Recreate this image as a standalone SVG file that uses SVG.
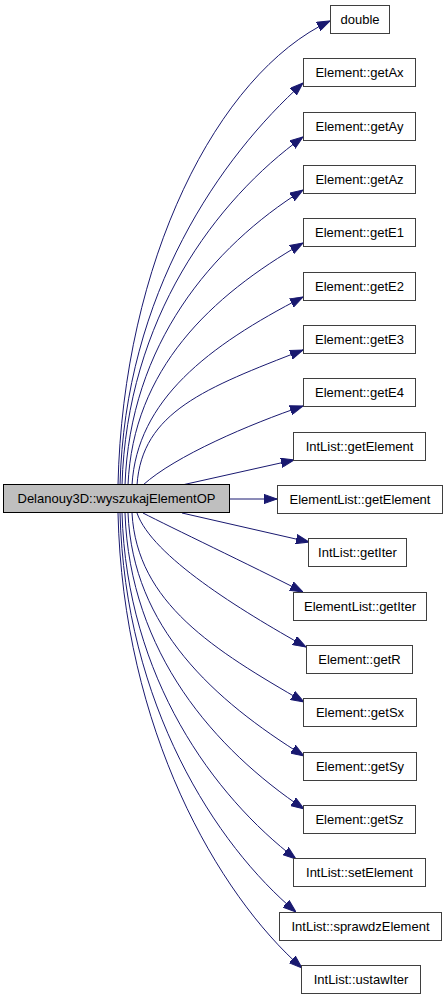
<svg xmlns="http://www.w3.org/2000/svg" width="448" height="1000" viewBox="0 0 448 1000">
<style>
.n rect{fill:#fff;stroke:#3f3f3f;stroke-width:1}
.m rect{fill:#bfbfbf;stroke:#000;stroke-width:1}
text{font-family:"Liberation Sans",Arial,sans-serif;font-size:13px;fill:#000;text-anchor:middle}
.e path{fill:none;stroke:#191970;stroke-width:1;marker-end:url(#a)}
</style>
<defs>
<marker id="a" markerUnits="userSpaceOnUse" markerWidth="13" markerHeight="10" viewBox="0 0 13 10" refX="13" refY="5" orient="auto">
<path d="M0,0.4 L13,5 L0,9.6 z" fill="#191970" stroke="#191970" stroke-width="1"/>
</marker>
</defs>
<rect width="448" height="1000" fill="#fff"/>
<g class="e" id="edges">
<path d="M118,485 C123,262 217,74 330,21"/>
<path d="M120,485 C125,292 221,157 303,83"/>
<path d="M122,485 C127,318 216,200 303,137"/>
<path d="M125,485 C130,344 212,247 303,190"/>
<path d="M128,485 C133,369 211,296 303,243"/>
<path d="M132,485 C137,400 208,346 303,297"/>
<path d="M137,485 C142,412 205,388 303,350"/>
<path d="M143,485 C175,456 250,424 303,406"/>
<path d="M182,485 L294,460"/>
<path d="M230,499 L277,499"/>
<path d="M182,513 L309,542"/>
<path d="M143,513 C170,527 250,565 303,592"/>
<path d="M137,513 C152,556 240,610 306,647"/>
<path d="M132,513 C137,603 214,650 304,702"/>
<path d="M128,513 C133,628 214,700 304,756"/>
<path d="M125,513 C130,654 215,749 304,809"/>
<path d="M122,513 C127,679 214,796 296,859"/>
<path d="M120,513 C125,705 216,845 296,912"/>
<path d="M118,513 C123,730 218,894 302,968"/>
</g>
<g class="m" id="main"><rect x="3.5" y="484.5" width="226" height="28"/><text x="116.5" y="503">Delanouy3D::wyszukajElementOP</text></g>
<g class="n" id="n0"><rect x="330.5" y="5.5" width="59" height="28"/><text x="360" y="24">double</text></g>
<g class="n" id="n1"><rect x="303.5" y="58.5" width="112" height="28"/><text x="359.5" y="77">Element::getAx</text></g>
<g class="n" id="n2"><rect x="303.5" y="112.5" width="112" height="28"/><text x="359.5" y="131">Element::getAy</text></g>
<g class="n" id="n3"><rect x="303.5" y="165.5" width="112" height="28"/><text x="359.5" y="184">Element::getAz</text></g>
<g class="n" id="n4"><rect x="303.5" y="218.5" width="112" height="28"/><text x="359.5" y="237">Element::getE1</text></g>
<g class="n" id="n5"><rect x="303.5" y="272.5" width="112" height="28"/><text x="359.5" y="291">Element::getE2</text></g>
<g class="n" id="n6"><rect x="303.5" y="325.5" width="112" height="28"/><text x="359.5" y="344">Element::getE3</text></g>
<g class="n" id="n7"><rect x="303.5" y="378.5" width="112" height="28"/><text x="359.5" y="397">Element::getE4</text></g>
<g class="n" id="n8"><rect x="293.5" y="432.5" width="132" height="28"/><text x="359.5" y="451">IntList::getElement</text></g>
<g class="n" id="n9"><rect x="277.5" y="485.5" width="165" height="28"/><text x="360" y="504">ElementList::getElement</text></g>
<g class="n" id="n10"><rect x="308.5" y="538.5" width="98" height="28"/><text x="357.5" y="557">IntList::getIter</text></g>
<g class="n" id="n11"><rect x="293.5" y="592.5" width="133" height="28"/><text x="360" y="611">ElementList::getIter</text></g>
<g class="n" id="n12"><rect x="306.5" y="645.5" width="106" height="28"/><text x="359.5" y="664">Element::getR</text></g>
<g class="n" id="n13"><rect x="303.5" y="698.5" width="113" height="28"/><text x="360" y="717">Element::getSx</text></g>
<g class="n" id="n14"><rect x="303.5" y="752.5" width="113" height="28"/><text x="360" y="771">Element::getSy</text></g>
<g class="n" id="n15"><rect x="303.5" y="805.5" width="112" height="28"/><text x="359.5" y="824">Element::getSz</text></g>
<g class="n" id="n16"><rect x="293.5" y="858.5" width="132" height="28"/><text x="359.5" y="877">IntList::setElement</text></g>
<g class="n" id="n17"><rect x="279.5" y="912.5" width="162" height="28"/><text x="360.5" y="931">IntList::sprawdzElement</text></g>
<g class="n" id="n18"><rect x="301.5" y="965.5" width="119" height="28"/><text x="361" y="984">IntList::ustawIter</text></g>
</svg>
